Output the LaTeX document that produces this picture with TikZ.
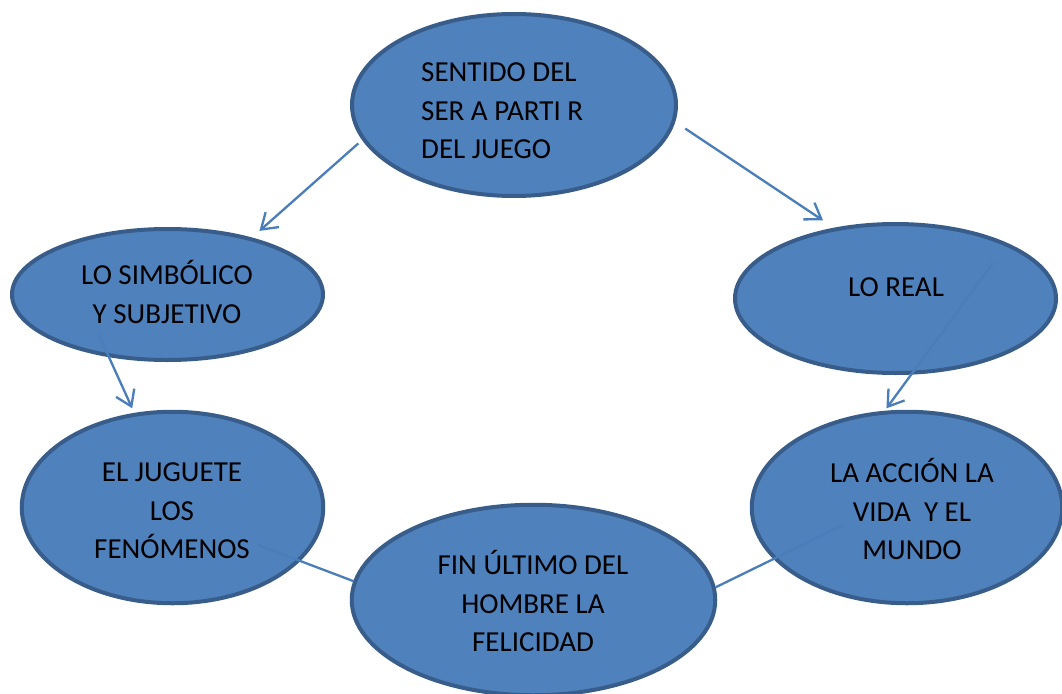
\documentclass[tikz,border=0pt]{standalone}
\usepackage{fontspec}
\setmainfont{Carlito}
\usetikzlibrary{arrows.meta,shapes.geometric}
\definecolor{bubblefill}{HTML}{4F81BD}
\definecolor{bubbleline}{HTML}{385D8A}
\definecolor{linkblue}{HTML}{4A7EBB}
\begin{document}
\begin{tikzpicture}[x=1pt, y=-1pt,
    bubble/.style={ellipse, draw=bubbleline, fill=bubblefill, line width=4pt, inner sep=0pt},
    words/.style={font=\fontsize{29}{38.5}\selectfont, text=black, inner sep=0pt},
    link/.style={draw=linkblue, line width=2.3pt},
    arrowlink/.style={link, -{Straight Barb[length=15pt, width=20pt]}}]
        \useasboundingbox (0,0) rectangle (1062,693);

        % the six ellipses
        \node[bubble, minimum width=324, minimum height=182] (sentido) at (514,105) {};
        \node[bubble, minimum width=311, minimum height=131] (simb) at (167.5,294.5) {};
        \node[bubble, minimum width=321, minimum height=149] (real) at (895.5,298.5) {};
        \node[bubble, minimum width=301.5, minimum height=191.5] (juguete) at (172.5,507.5) {};
        \node[bubble, minimum width=310.5, minimum height=191.5] (accion) at (907,507.5) {};
        \node[bubble, minimum width=363.5, minimum height=190.5] (fin) at (533.5,600) {};

        % their texts
        \node[words, align=left, anchor=west] (sentido-t) at (421,111) {SENTIDO DEL\\SER A PARTI R\\DEL JUEGO};
        \node[words, align=center] (simb-t) at (167,292) {LO SIMBÓLICO\\Y SUBJETIVO};
        \node[words] (real-t) at (896,287) {LO REAL};
        \node[words, align=center] (juguete-t) at (172,511) {EL JUGUETE\\LOS\\FENÓMENOS};
        \node[words, align=center] (accion-t) at (912,509) {LA ACCIÓN LA\\VIDA\ \ Y EL\\MUNDO};
        \node[words, align=center] (fin-t) at (533,601) {FIN ÚLTIMO DEL\\HOMBRE LA\\FELICIDAD};

        % free ends inside the ellipses
        \coordinate (simb-in) at (98,333);
        \coordinate (real-in) at (993,263);
        \coordinate (juguete-in) at (258,545);
        \coordinate (accion-in) at (843,525);

        \draw[arrowlink, shorten <=5pt, shorten >=10pt] (sentido.193) -- (simb.34);
        \draw[arrowlink, shorten <=12pt, shorten >=13pt] (sentido.354.5) -- (real.131);
        \draw[arrowlink, shorten >=5pt] (simb-in) -- (juguete.112);
        \draw[arrowlink, shorten >=3pt] (real-in) -- (accion.103);
        \draw[link] (juguete-in) -- (fin.174);
        \draw[link] (fin.4) -- (accion-in);
    \end{tikzpicture}
\end{document}
